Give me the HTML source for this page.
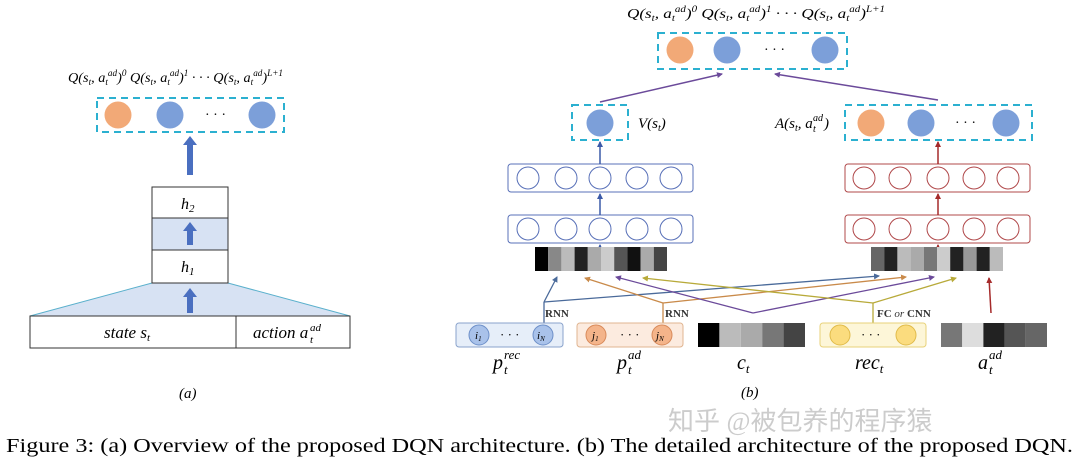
<!DOCTYPE html>
<html><head><meta charset="utf-8"><style>
html,body{margin:0;padding:0;background:#fff;}
svg{display:block;}
text{font-family:"Liberation Serif",serif;}
.m{font-style:italic;}
</style></head><body>
<svg width="1080" height="467" viewBox="0 0 1080 467" xmlns="http://www.w3.org/2000/svg">
<defs>
<marker id="ab" markerWidth="6" markerHeight="6" refX="5" refY="3" orient="auto" markerUnits="userSpaceOnUse"><path d="M0,0 L6,3 L0,6z" fill="#3b5aa8"/></marker>
<marker id="ar" markerWidth="6" markerHeight="6" refX="5" refY="3" orient="auto" markerUnits="userSpaceOnUse"><path d="M0,0 L6,3 L0,6z" fill="#a52a2a"/></marker>
<marker id="ap" markerWidth="6" markerHeight="6" refX="5" refY="3" orient="auto" markerUnits="userSpaceOnUse"><path d="M0,0 L6,3 L0,6z" fill="#6b4a9a"/></marker>
<marker id="ao" markerWidth="6" markerHeight="6" refX="5" refY="3" orient="auto" markerUnits="userSpaceOnUse"><path d="M0,0 L6,3 L0,6z" fill="#c98a4a"/></marker>
<marker id="ay" markerWidth="6" markerHeight="6" refX="5" refY="3" orient="auto" markerUnits="userSpaceOnUse"><path d="M0,0 L6,3 L0,6z" fill="#b8aa3a"/></marker>
<marker id="abl" markerWidth="6" markerHeight="6" refX="5" refY="3" orient="auto" markerUnits="userSpaceOnUse"><path d="M0,0 L6,3 L0,6z" fill="#4a6a9a"/></marker>
</defs>

<!-- Panel (a) -->
<text x="68" y="82" font-size="14" class="m" textLength="215" lengthAdjust="spacingAndGlyphs">Q(s<tspan font-size="9" dy="3">t</tspan><tspan dy="-3">, a</tspan><tspan font-size="9" dy="3">t</tspan><tspan font-size="9" dy="-9">ad</tspan><tspan dy="6">)</tspan><tspan font-size="9" dy="-6">0</tspan><tspan dy="6"> Q(s</tspan><tspan font-size="9" dy="3">t</tspan><tspan dy="-3">, a</tspan><tspan font-size="9" dy="3">t</tspan><tspan font-size="9" dy="-9">ad</tspan><tspan dy="6">)</tspan><tspan font-size="9" dy="-6">1</tspan><tspan dy="6"> · · · Q(s</tspan><tspan font-size="9" dy="3">t</tspan><tspan dy="-3">, a</tspan><tspan font-size="9" dy="3">t</tspan><tspan font-size="9" dy="-9">ad</tspan><tspan dy="6">)</tspan><tspan font-size="9" dy="-6">L+1</tspan></text>
<rect x="97" y="98" width="187" height="34" fill="none" stroke="#2bb0d0" stroke-width="2" stroke-dasharray="7,5"/>
<circle cx="118" cy="115" r="13.5" fill="#f2a977"/>
<circle cx="170" cy="115" r="13.5" fill="#7c9fd9"/>
<text x="205" y="119" font-size="14">· · ·</text>
<circle cx="262" cy="115" r="13.5" fill="#7c9fd9"/>
<path d="M187,175 V145 H183 L190,136 L197,145 H193 V175z" fill="#4a6fc0"/>
<polygon points="152,283 228,283 350,316 30,316" fill="#d7e2f3" stroke="#5ab0cc" stroke-width="1"/>
<rect x="152" y="187" width="76" height="31" fill="#fff" stroke="#333"/>
<rect x="152" y="218" width="76" height="32" fill="#d7e2f3" stroke="#333"/>
<rect x="152" y="250" width="76" height="33" fill="#fff" stroke="#333"/>
<text x="181" y="209" font-size="16" class="m">h<tspan font-size="11" dy="3">2</tspan></text>
<text x="181" y="272" font-size="16" class="m">h<tspan font-size="11" dy="3">1</tspan></text>
<path d="M187,245 V231 H183 L190,222 L197,231 H193 V245z" fill="#4a6fc0"/>
<path d="M187,313 V297 H183 L190,288 L197,297 H193 V313z" fill="#4a6fc0"/>
<rect x="30" y="316" width="206" height="32" fill="#fff" stroke="#333"/>
<rect x="236" y="316" width="114" height="32" fill="#fff" stroke="#333"/>
<text x="104" y="338" font-size="17" class="m">state s<tspan font-size="11" dy="3">t</tspan></text>
<text x="253" y="338" font-size="17" class="m">action a</text>
<text x="310" y="331" font-size="11" class="m">ad</text>
<text x="310" y="343" font-size="11" class="m">t</text>
<text x="179" y="398" font-size="15" class="m">(a)</text>

<!-- Panel (b) top -->
<text x="627" y="18" font-size="14" class="m" textLength="258" lengthAdjust="spacingAndGlyphs">Q(s<tspan font-size="9" dy="3">t</tspan><tspan dy="-3">, a</tspan><tspan font-size="9" dy="3">t</tspan><tspan font-size="9" dy="-9">ad</tspan><tspan dy="6">)</tspan><tspan font-size="9" dy="-6">0</tspan><tspan dy="6"> Q(s</tspan><tspan font-size="9" dy="3">t</tspan><tspan dy="-3">, a</tspan><tspan font-size="9" dy="3">t</tspan><tspan font-size="9" dy="-9">ad</tspan><tspan dy="6">)</tspan><tspan font-size="9" dy="-6">1</tspan><tspan dy="6"> · · · Q(s</tspan><tspan font-size="9" dy="3">t</tspan><tspan dy="-3">, a</tspan><tspan font-size="9" dy="3">t</tspan><tspan font-size="9" dy="-9">ad</tspan><tspan dy="6">)</tspan><tspan font-size="9" dy="-6">L+1</tspan></text>
<rect x="658" y="33" width="189" height="36" fill="none" stroke="#2bb0d0" stroke-width="2" stroke-dasharray="7,5"/>
<circle cx="680" cy="50" r="13.5" fill="#f2a977"/>
<circle cx="727" cy="50" r="13.5" fill="#7c9fd9"/>
<text x="764" y="54" font-size="14">· · ·</text>
<circle cx="825" cy="50" r="13.5" fill="#7c9fd9"/>
<line x1="600" y1="102" x2="722" y2="74" stroke="#6b4a9a" stroke-width="1.5" marker-end="url(#ap)"/>
<line x1="938" y1="100" x2="775" y2="74" stroke="#6b4a9a" stroke-width="1.5" marker-end="url(#ap)"/>

<rect x="572" y="105" width="56" height="35" fill="none" stroke="#2bb0d0" stroke-width="2" stroke-dasharray="7,5"/>
<circle cx="600" cy="123" r="13.5" fill="#7c9fd9"/>
<text x="638" y="128" font-size="15" class="m">V(s<tspan font-size="10" dy="3">t</tspan><tspan dy="-3">)</tspan></text>
<text x="775" y="128" font-size="15" class="m">A(s<tspan font-size="10" dy="3">t</tspan><tspan dy="-3">, a</tspan></text>
<text x="813" y="121" font-size="10" class="m">ad</text>
<text x="813" y="132" font-size="10" class="m">t</text>
<text x="824" y="128" font-size="15" class="m">)</text>
<rect x="845" y="105" width="187" height="35" fill="none" stroke="#2bb0d0" stroke-width="2" stroke-dasharray="7,5"/>
<circle cx="871" cy="123" r="13.5" fill="#f2a977"/>
<circle cx="921" cy="123" r="13.5" fill="#7c9fd9"/>
<text x="955" y="127" font-size="14">· · ·</text>
<circle cx="1006" cy="123" r="13.5" fill="#7c9fd9"/>

<!-- layers -->
<g fill="none" stroke="#5870b8" stroke-width="1">
<rect x="508" y="164" width="185" height="28" rx="3"/>
<rect x="508" y="215" width="185" height="28" rx="3"/>
<circle cx="528" cy="178" r="11"/><circle cx="566" cy="178" r="11"/><circle cx="600" cy="178" r="11"/><circle cx="637" cy="178" r="11"/><circle cx="671" cy="178" r="11"/>
<circle cx="528" cy="229" r="11"/><circle cx="566" cy="229" r="11"/><circle cx="600" cy="229" r="11"/><circle cx="637" cy="229" r="11"/><circle cx="671" cy="229" r="11"/>
</g>
<g fill="none" stroke="#b0484a" stroke-width="1">
<rect x="845" y="164" width="185" height="28" rx="3"/>
<rect x="845" y="215" width="185" height="28" rx="3"/>
<circle cx="864" cy="178" r="11"/><circle cx="900" cy="178" r="11"/><circle cx="938" cy="178" r="11"/><circle cx="974" cy="178" r="11"/><circle cx="1008" cy="178" r="11"/>
<circle cx="864" cy="229" r="11"/><circle cx="900" cy="229" r="11"/><circle cx="938" cy="229" r="11"/><circle cx="974" cy="229" r="11"/><circle cx="1008" cy="229" r="11"/>
</g>
<g stroke="#3b5aa8" stroke-width="1.5">
<line x1="600" y1="164" x2="600" y2="142" marker-end="url(#ab)"/>
<line x1="600" y1="215" x2="600" y2="194" marker-end="url(#ab)"/>
<line x1="600" y1="247" x2="600" y2="245" marker-end="url(#ab)"/>
</g>
<g stroke="#a52a2a" stroke-width="1.5">
<line x1="938" y1="164" x2="938" y2="142" marker-end="url(#ar)"/>
<line x1="938" y1="215" x2="938" y2="194" marker-end="url(#ar)"/>
<line x1="938" y1="247" x2="938" y2="245" marker-end="url(#ar)"/>
<line x1="991" y1="313" x2="989" y2="278" marker-end="url(#ar)"/>
</g>

<!-- feature bars -->
<g>
<rect x="535" y="247" width="13.2" height="24" fill="#000"/><rect x="548.2" y="247" width="13.2" height="24" fill="#888"/><rect x="561.4" y="247" width="13.2" height="24" fill="#bbb"/><rect x="574.6" y="247" width="13.2" height="24" fill="#222"/><rect x="587.8" y="247" width="13.2" height="24" fill="#aaa"/><rect x="601" y="247" width="13.2" height="24" fill="#ccc"/><rect x="614.2" y="247" width="13.2" height="24" fill="#555"/><rect x="627.4" y="247" width="13.2" height="24" fill="#111"/><rect x="640.6" y="247" width="13.2" height="24" fill="#aaa"/><rect x="653.8" y="247" width="13.2" height="24" fill="#444"/>
<rect x="871" y="247" width="13.2" height="24" fill="#666"/><rect x="884.2" y="247" width="13.2" height="24" fill="#222"/><rect x="897.4" y="247" width="13.2" height="24" fill="#bbb"/><rect x="910.6" y="247" width="13.2" height="24" fill="#aaa"/><rect x="923.8" y="247" width="13.2" height="24" fill="#777"/><rect x="937" y="247" width="13.2" height="24" fill="#ccc"/><rect x="950.2" y="247" width="13.2" height="24" fill="#222"/><rect x="963.4" y="247" width="13.2" height="24" fill="#999"/><rect x="976.6" y="247" width="13.2" height="24" fill="#222"/><rect x="989.8" y="247" width="13.2" height="24" fill="#bbb"/>
</g>

<!-- cross connectors -->
<g fill="none" stroke-width="1.3">
<polyline points="544,323 544,302" stroke="#4a6a9a"/>
<line x1="544" y1="302" x2="557" y2="277" stroke="#4a6a9a" marker-end="url(#abl)"/>
<line x1="544" y1="302" x2="879" y2="276" stroke="#4a6a9a" marker-end="url(#abl)"/>
<polyline points="663,323 663,303" stroke="#c98a4a"/>
<line x1="663" y1="303" x2="585" y2="278" stroke="#c98a4a" marker-end="url(#ao)"/>
<line x1="663" y1="303" x2="906" y2="277" stroke="#c98a4a" marker-end="url(#ao)"/>
<line x1="753" y1="313" x2="616" y2="277" stroke="#6b4a9a" marker-end="url(#ap)"/>
<line x1="753" y1="313" x2="934" y2="277" stroke="#6b4a9a" marker-end="url(#ap)"/>
<polyline points="873,323 873,303" stroke="#b8aa3a"/>
<line x1="873" y1="303" x2="643" y2="278" stroke="#b8aa3a" marker-end="url(#ay)"/>
<line x1="873" y1="303" x2="956" y2="278" stroke="#b8aa3a" marker-end="url(#ay)"/>
</g>
<text x="545" y="317" font-size="11" font-weight="bold" fill="#333">RNN</text>
<text x="665" y="317" font-size="11" font-weight="bold" fill="#333">RNN</text>
<text x="877" y="317" font-size="11" font-weight="bold" fill="#333">FC <tspan font-style="italic" font-weight="normal">or</tspan> CNN</text>

<!-- inputs -->
<rect x="456" y="323" width="107" height="24" rx="3" fill="#e6eef9" stroke="#8aa3cc"/>
<circle cx="479" cy="335" r="10" fill="#a9c2ea" stroke="#6d8fc8"/>
<circle cx="543" cy="335" r="10" fill="#a9c2ea" stroke="#6d8fc8"/>
<text x="475" y="339" font-size="11" class="m">i<tspan font-size="7" dy="2">1</tspan></text>
<text x="537" y="339" font-size="11" class="m">i<tspan font-size="7" dy="2">N</tspan></text>
<text x="500" y="339" font-size="13">· · ·</text>

<rect x="577" y="323" width="106" height="24" rx="3" fill="#fcebdf" stroke="#e0b490"/>
<circle cx="596" cy="335" r="10" fill="#f4b48a" stroke="#d88a5a"/>
<circle cx="662" cy="335" r="10" fill="#f4b48a" stroke="#d88a5a"/>
<text x="592" y="339" font-size="11" class="m">j<tspan font-size="7" dy="2">1</tspan></text>
<text x="656" y="339" font-size="11" class="m">j<tspan font-size="7" dy="2">N</tspan></text>
<text x="620" y="339" font-size="13">· · ·</text>

<rect x="698" y="323" width="21.4" height="24" fill="#000"/><rect x="719.4" y="323" width="21.4" height="24" fill="#bbb"/><rect x="740.8" y="323" width="21.4" height="24" fill="#aaa"/><rect x="762.2" y="323" width="21.4" height="24" fill="#777"/><rect x="783.6" y="323" width="21.4" height="24" fill="#444"/>

<rect x="820" y="323" width="106" height="24" rx="3" fill="#fdf6d8" stroke="#e8d27a"/>
<circle cx="840" cy="335" r="10" fill="#fbdc7e" stroke="#e0bb4a"/>
<circle cx="906" cy="335" r="10" fill="#fbdc7e" stroke="#e0bb4a"/>
<text x="861" y="339" font-size="13">· · ·</text>

<rect x="941" y="323" width="21.2" height="24" fill="#777"/><rect x="962.2" y="323" width="21.2" height="24" fill="#ddd"/><rect x="983.4" y="323" width="21.2" height="24" fill="#222"/><rect x="1004.6" y="323" width="21.2" height="24" fill="#555"/><rect x="1025.8" y="323" width="21.2" height="24" fill="#666"/>

<text x="493" y="369" font-size="20" class="m">p</text>
<text x="504" y="359" font-size="13" class="m">rec</text>
<text x="504" y="374" font-size="13" class="m">t</text>
<text x="617" y="369" font-size="20" class="m">p</text>
<text x="628" y="359" font-size="13" class="m">ad</text>
<text x="628" y="374" font-size="13" class="m">t</text>
<text x="737" y="369" font-size="20" class="m">c<tspan font-size="13" dy="4">t</tspan></text>
<text x="855" y="369" font-size="20" class="m">rec<tspan font-size="13" dy="4">t</tspan></text>
<text x="978" y="369" font-size="20" class="m">a</text>
<text x="989" y="359" font-size="13" class="m">ad</text>
<text x="989" y="374" font-size="13" class="m">t</text>
<text x="741" y="397" font-size="15" class="m">(b)</text>

<text x="668" y="430" font-size="26" fill="#ccc" font-family="'Liberation Sans','Noto Sans CJK SC',sans-serif">知乎 @被包养的程序猿</text>
<text x="6" y="452" font-size="19.5" textLength="1067" lengthAdjust="spacingAndGlyphs">Figure 3: (a) Overview of the proposed DQN architecture. (b) The detailed architecture of the proposed DQN.</text>
</svg>
</body></html>
